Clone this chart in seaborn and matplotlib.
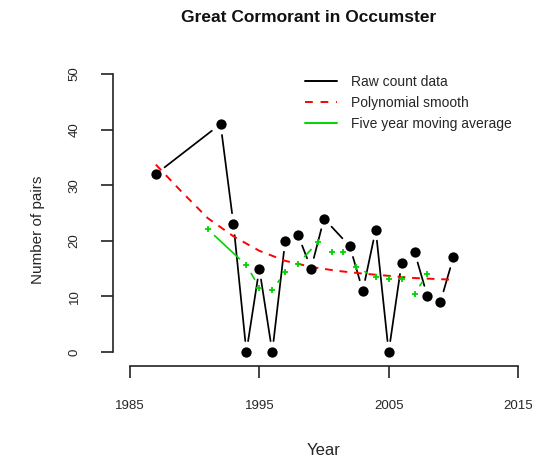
import numpy as np
import pandas as pd
import matplotlib
matplotlib.use("Agg")
import matplotlib.pyplot as plt
import seaborn as sns

# ---- data ----
years_raw = [1987, 1992, 1993, 1994, 1995, 1996, 1997, 1998, 1999, 2000,
             2002, 2003, 2004, 2005, 2006, 2007, 2008, 2009, 2010]
pairs_raw = [32, 41, 23, 0, 15, 0, 20, 21, 15, 24,
             19, 11, 22, 0, 16, 18, 10, 9, 17]

years_smooth = [1987, 1989, 1991, 1993, 1995, 1997, 1999, 2001, 2003, 2005, 2007, 2010]
pairs_smooth = [33.7, 28.8, 24.1, 20.8, 18.2, 16.4, 15.3, 14.6, 14.1, 13.7, 13.3, 13.0]

years_ma = [1991, 1994, 1995, 1996, 1997, 1998, 1999.5, 2000.6, 2001.5, 2002.5,
            2004, 2005, 2006, 2007, 2008]
pairs_ma = [22.1, 15.6, 11.6, 11.2, 14.3, 15.9, 19.7, 17.9, 17.9, 15.2,
            13.5, 13.1, 13.1, 10.5, 14.0]

x_ticks = [1985, 1995, 2005, 2015]
y_ticks = [0, 10, 20, 30, 40, 50]

RED = "#ff0000"
GREEN = "#00d400"

sns.set_theme(style="white")
plt.rcParams["font.family"] = ["Liberation Sans", "DejaVu Sans"]

W, H = 538, 461
fig = plt.figure(figsize=(W / 100, H / 100), dpi=100)
ax = fig.add_axes([130 / W, (H - 352) / H, 388 / W, 278 / H])
ax.set_xlim(1985, 2015)
ax.set_ylim(0, 50)


def gapped_segments(xs, ys, gap_px, **kw):
    # R type="b": segments stop short of the points
    pts = ax.transData.transform(np.column_stack([xs, ys]))
    for i in range(len(xs) - 1):
        d = np.hypot(*(pts[i + 1] - pts[i]))
        if d <= 2 * gap_px + 1:
            continue
        ax.annotate("", xy=(xs[i + 1], ys[i + 1]), xytext=(xs[i], ys[i]),
                    arrowprops=dict(arrowstyle="-", shrinkA=gap_px * 0.72,
                                    shrinkB=gap_px * 0.72, **kw))


# raw counts
gapped_segments(years_raw, pairs_raw, 11, color="black", lw=1.25)
raw = pd.DataFrame({"year": years_raw, "pairs": pairs_raw})
sns.scatterplot(data=raw, x="year", y="pairs", ax=ax, color="black", s=55,
                linewidth=0, zorder=5, clip_on=False)

# polynomial smooth
sm = pd.DataFrame({"year": years_smooth, "pairs": pairs_smooth})
sns.lineplot(data=sm, x="year", y="pairs", ax=ax, color=RED, lw=1.4,
             dashes=False, linestyle=(0, (4, 3.5)), zorder=3)

# five year moving average
gapped_segments(years_ma, pairs_ma, 9.5, color=GREEN, lw=1.2)
ma = pd.DataFrame({"year": years_ma, "pairs": pairs_ma})
sns.scatterplot(data=ma, x="year", y="pairs", ax=ax, color=GREEN, marker="+",
                s=22, linewidth=1.3, zorder=4)

# axes in R style
sns.despine(ax=ax)
ax.spines["left"].set_position(("outward", 12))
ax.spines["bottom"].set_position(("outward", 10))
for s in ["left", "bottom"]:
    ax.spines[s].set_linewidth(1.2)
    ax.spines[s].set_color("#222222")
ax.set_xticks(x_ticks)
ax.set_yticks(y_ticks)
ax.set_xticklabels([str(v) for v in x_ticks])
ax.set_yticklabels([str(v) for v in y_ticks], rotation=90, va="center")
ax.tick_params(axis="both", direction="out", length=8.6, width=1.2,
               color="#222222", labelsize=9.5, left=True, bottom=True)
ax.tick_params(axis="y", pad=15)
ax.tick_params(axis="x", pad=16)
ax.set_xlabel("")
ax.set_ylabel("")

fig.text(309 / W, 1 - 17 / H, "Great Cormorant in Occumster",
         ha="center", va="center", fontsize=12.5, fontweight="bold", color="#111111")
fig.text(324 / W, 1 - 450 / H, "Year", ha="center", va="center", fontsize=12)
fig.text(38 / W, 1 - 230 / H, "Number of pairs", ha="center", va="center",
         rotation=90, fontsize=11)

handles = [
    plt.Line2D([], [], color="black", lw=1.4),
    plt.Line2D([], [], color=RED, lw=1.4, linestyle=(0, (4, 4))),
    plt.Line2D([], [], color=GREEN, lw=1.4),
]
labels = ["Raw count data", "Polynomial smooth", "Five year moving average"]
ax.legend(handles, labels, loc="upper left", bbox_to_anchor=(305 / W, 1 - 75 / H),
          bbox_transform=fig.transFigure, frameon=False, fontsize=10,
          handlelength=2.3, handletextpad=1.0, labelspacing=0.5, borderpad=0,
          borderaxespad=0)

fig.savefig("out.png", dpi=100)
